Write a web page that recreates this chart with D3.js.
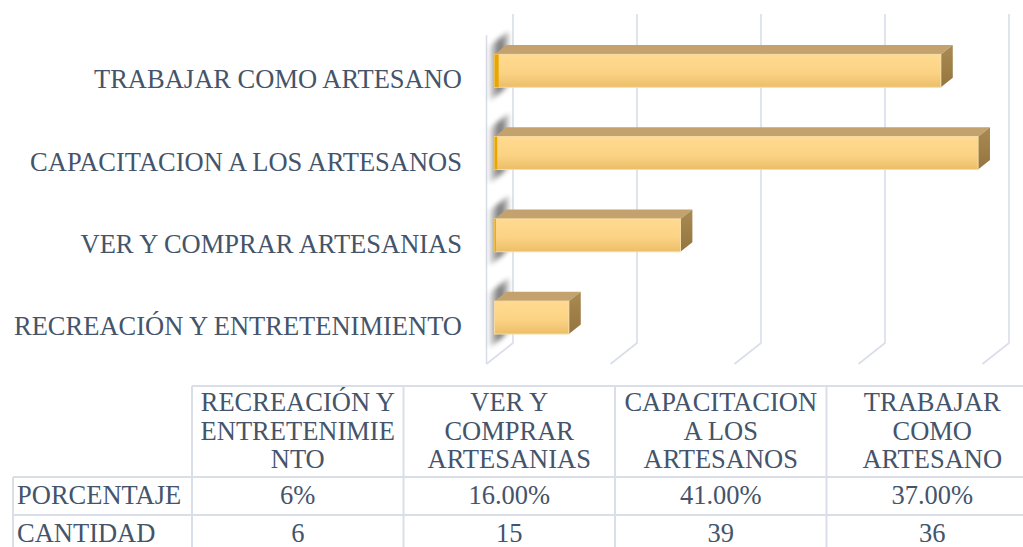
<!DOCTYPE html>
<html>
<head>
<meta charset="utf-8">
<script src="https://cdn.jsdelivr.net/npm/d3@7.9.0/dist/d3.min.js"></script>
<style>
  body { margin: 0; background: #fff; }
</style>
</head>
<body>
<svg id="chart" width="1023" height="547"></svg>
<script>
// data
const categories = ["RECREACIÓN Y ENTRETENIMIENTO", "VER Y COMPRAR ARTESANIAS", "CAPACITACION A LOS ARTESANOS", "TRABAJAR COMO ARTESANO"];
const cantidad = [6, 15, 39, 36];
const porcentaje = ["6%", "16.00%", "41.00%", "37.00%"];
const headerLines = [["RECREACIÓN Y", "ENTRETENIMIE", "NTO"], ["VER Y", "COMPRAR", "ARTESANIAS"], ["CAPACITACION", "A LOS", "ARTESANOS"], ["TRABAJAR", "COMO", "ARTESANO"]];
const rowNames = ["PORCENTAJE", "CANTIDAD"];
const xTicks = [0, 10, 20, 30, 40, 50];

const svg = d3.select("#chart").attr("font-family", "Liberation Serif");
const textColor = "#44546A";
const gridColor = "#D9DEE8";
const fontSize = "26.5px";

// 3d box: back wall plane + depth vector towards the viewer
const depth = { x: -26.5, y: 21 };
const zFront = 0.7, zBack = 0.25;

const x = d3.scaleLinear().domain([0, 50]).range([513, 1133]);
const y = d3.scaleBand()
    .domain(categories.slice().reverse())
    .range([15, 344])
    .paddingInner(0.6)
    .paddingOuter(0.3);

const px = (v, z) => x(v) + z * depth.x;
const py = (yy, z) => yy + z * depth.y;

const defs = svg.append("defs");
const gFront = defs.append("linearGradient").attr("id", "front").attr("x1", 0).attr("y1", 0).attr("x2", 0).attr("y2", 1);
gFront.append("stop").attr("offset", "0%").attr("stop-color", "#FFDA90");
gFront.append("stop").attr("offset", "55%").attr("stop-color", "#FCD385");
gFront.append("stop").attr("offset", "100%").attr("stop-color", "#EBBE68");
const gSide = defs.append("linearGradient").attr("id", "side").attr("x1", 0).attr("y1", 0).attr("x2", 0).attr("y2", 1);
gSide.append("stop").attr("offset", "0%").attr("stop-color", "#A98A52");
gSide.append("stop").attr("offset", "100%").attr("stop-color", "#94753F");
const gShadow = defs.append("linearGradient").attr("id", "shadow").attr("x1", 0).attr("y1", 0).attr("x2", 1).attr("y2", 0);
gShadow.append("stop").attr("offset", "0%").attr("stop-color", "#000").attr("stop-opacity", 0.1);
gShadow.append("stop").attr("offset", "55%").attr("stop-color", "#000").attr("stop-opacity", 0.7);
gShadow.append("stop").attr("offset", "100%").attr("stop-color", "#000").attr("stop-opacity", 0.2);
defs.append("filter").attr("id", "blur").attr("x", "-50%").attr("y", "-50%").attr("width", "200%").attr("height", "200%")
    .append("feGaussianBlur").attr("stdDeviation", 2.5);

// gridlines on back wall + floor
const grid = svg.append("g");
grid.selectAll(".vline").data(xTicks).enter().append("path")
    .attr("d", d => `M${px(d, 0)},${py(14, 0)} L${px(d, 0)},${py(343, 0)} L${px(d, 1)},${py(343, 1)}`)
    .attr("fill", "none").attr("stroke", gridColor).attr("stroke-width", 1.6);
// left wall front edge
grid.append("line")
    .attr("x1", px(0, 1)).attr("x2", px(0, 1))
    .attr("y1", py(14, 1)).attr("y2", py(343, 1))
    .attr("stroke", gridColor).attr("stroke-width", 1.6);

// shadows of bars on left wall
const bars = categories.map((c, i) => ({ cat: c, value: cantidad[i] }));
svg.append("g").selectAll("path").data(bars).enter().append("path")
    .attr("d", d => {
        const t = y(d.cat) - 12, b = y(d.cat) + y.bandwidth() + 10;
        return `M${px(0, 0.15)},${py(t, 0.15)} L${px(0, 0.9)},${py(t, 0.9)} L${px(0, 0.9)},${py(b, 0.9)} L${px(0, 0.15)},${py(b, 0.15)}Z`;
    })
    .attr("fill", "url(#shadow)")
    .attr("opacity", 0.8)
    .attr("filter", "url(#blur)");

// bars
const gb = svg.append("g").selectAll("g").data(bars).enter().append("g");
// top face
gb.append("path")
    .attr("d", d => {
        const t = y(d.cat);
        return `M${px(0, zFront)},${py(t, zFront)} L${px(d.value, zFront)},${py(t, zFront)} L${px(d.value, zBack)},${py(t, zBack)} L${px(0, zBack)},${py(t, zBack)}Z`;
    })
    .attr("fill", "#C4A26E");
// right end face
gb.append("path")
    .attr("d", d => {
        const t = y(d.cat), b = t + y.bandwidth();
        return `M${px(d.value, zFront)},${py(t, zFront)} L${px(d.value, zBack)},${py(t, zBack)} L${px(d.value, zBack)},${py(b, zBack)} L${px(d.value, zFront)},${py(b, zFront)}Z`;
    })
    .attr("fill", "url(#side)");
// front face
gb.append("rect")
    .attr("x", px(0, zFront))
    .attr("y", d => py(y(d.cat), zFront))
    .attr("width", d => px(d.value, zFront) - px(0, zFront))
    .attr("height", y.bandwidth())
    .attr("fill", "url(#front)")
    .attr("stroke", "#F6DCA4").attr("stroke-width", 1);
// left end (seen in perspective)
gb.append("rect")
    .attr("x", px(0, zFront))
    .attr("y", d => py(y(d.cat), zFront))
    .attr("width", (d, i) => i * 1.4)
    .attr("height", y.bandwidth())
    .attr("fill", "#E8A600");

// category labels
svg.append("g").selectAll("text").data(categories).enter().append("text")
    .attr("x", 462)
    .attr("y", d => py(y(d) + y.bandwidth() / 2, 1) + 2)
    .attr("dy", "0.35em")
    .attr("text-anchor", "end")
    .attr("fill", textColor)
    .style("font-size", fontSize)
    .text(d => d);

// data table
const tbl = { left: 13, labelW: 179, colW: 211.5, top: 386, headH: 91, rowH: 38 };
const colX = i => tbl.left + tbl.labelW + i * tbl.colW;
const table = svg.append("g");
const lineStyle = s => s.attr("stroke", gridColor).attr("stroke-width", 2);

// horizontal lines
table.append("line").attr("x1", colX(0)).attr("x2", colX(4)).attr("y1", tbl.top).attr("y2", tbl.top).call(lineStyle);
d3.range(rowNames.length + 1).forEach(r => {
    const yy = tbl.top + tbl.headH + r * tbl.rowH;
    table.append("line").attr("x1", tbl.left).attr("x2", colX(4)).attr("y1", yy).attr("y2", yy).call(lineStyle);
});
// vertical lines
table.append("line").attr("x1", tbl.left).attr("x2", tbl.left)
    .attr("y1", tbl.top + tbl.headH).attr("y2", tbl.top + tbl.headH + 2 * tbl.rowH).call(lineStyle);
d3.range(5).forEach(i => {
    table.append("line").attr("x1", colX(i)).attr("x2", colX(i))
        .attr("y1", tbl.top).attr("y2", tbl.top + tbl.headH + 2 * tbl.rowH).call(lineStyle);
});

// headers
headerLines.forEach((lines, i) => {
    table.selectAll(null).data(lines).enter().append("text")
        .attr("x", colX(i) + tbl.colW / 2)
        .attr("y", (d, k) => tbl.top + 25 + k * 28.5)
        .attr("text-anchor", "middle")
        .attr("fill", textColor)
        .style("font-size", fontSize)
        .text(d => d);
});

// rows
const rows = [porcentaje, cantidad];
rows.forEach((vals, r) => {
    const yy = tbl.top + tbl.headH + r * tbl.rowH + tbl.rowH / 2 - 1;
    table.append("text")
        .attr("x", tbl.left + 4).attr("y", yy).attr("dy", "0.35em")
        .attr("fill", textColor).style("font-size", fontSize)
        .text(rowNames[r]);
    table.selectAll(null).data(vals).enter().append("text")
        .attr("x", (d, i) => colX(i) + tbl.colW / 2)
        .attr("y", yy).attr("dy", "0.35em")
        .attr("text-anchor", "middle")
        .attr("fill", textColor).style("font-size", fontSize)
        .text(d => d);
});
</script>
</body>
</html>
